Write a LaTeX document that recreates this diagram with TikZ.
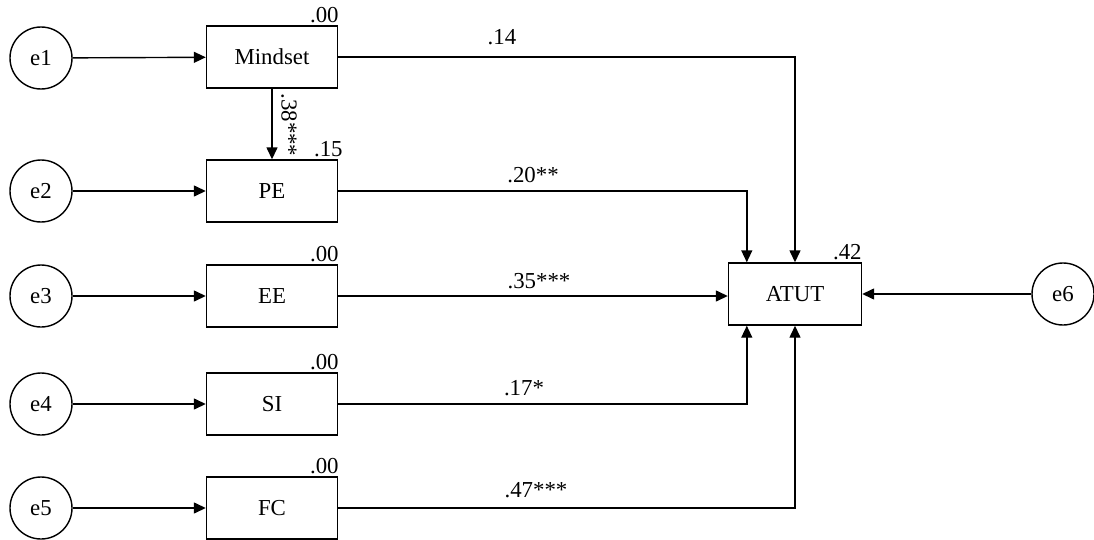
\documentclass[tikz,border=0pt]{standalone}
\usepackage{fontspec}
\setmainfont{Liberation Serif}
\usetikzlibrary{positioning,calc,arrows.meta}

\tikzset{
  errnode/.style={draw, circle, minimum size=12.4mm, inner sep=0pt, line width=0.8pt},
  varbox/.style={draw, rectangle, minimum width=26.2mm, minimum height=12.4mm,
                 inner sep=0pt, line width=0.8pt},
  pathline/.style={-{Triangle[length=2.4mm,width=2.2mm]}, line width=0.8pt},
  coeflab/.style={inner sep=1pt},
  r2lab/.style={inner sep=1pt, anchor=south east, xshift=0.5mm}
}

\begin{document}
\begin{tikzpicture}[x=0.2mm, y=-0.2mm, font=\fontsize{13}{15}\selectfont]

\useasboundingbox (0,0) rectangle (1094,539);

\def\errX{41}
\def\boxX{272}

% --- error terms ---
\node[errnode] (e1) at (\errX,58)  {e1};
\node[errnode] (e2) at (\errX,191) {e2};
\node[errnode] (e3) at (\errX,296) {e3};
\node[errnode] (e4) at (\errX,404) {e4};
\node[errnode] (e5) at (\errX,508) {e5};
\node[errnode] (e6) at (1063,294)  {e6};

% --- observed variables ---
\node[varbox] (mindset) at (\boxX,57)  {Mindset};
\node[varbox] (pe)      at (\boxX,191) {PE};
\node[varbox] (ee)      at (\boxX,296) {EE};
\node[varbox] (si)      at (\boxX,404) {SI};
\node[varbox] (fc)      at (\boxX,508) {FC};
\node[varbox, minimum width=26.6mm] (atut) at (795,294) {ATUT};

% --- squared multiple correlations ---
\node[r2lab] (r2mindset) at (mindset.north east) {.00};
\node[r2lab, xshift=0.8mm] (r2pe) at (pe.north east) {.15};
\node[r2lab] (r2ee) at (ee.north east) {.00};
\node[r2lab] (r2si) at (si.north east) {.00};
\node[r2lab] (r2fc) at (fc.north east) {.00};
\node[r2lab, xshift=-0.2mm] (r2atut) at (atut.north east) {.42};

% --- error paths ---
\foreach \e/\v in {e1/mindset, e2/pe, e3/ee, e4/si, e5/fc}
  \draw[pathline] (\e) -- (\v);
\draw[pathline] (e6) -- (atut);

% --- structural paths ---
\draw[pathline] (mindset) -- (pe);
\draw[pathline] (mindset.east) -| (atut.north);
\draw[pathline] (pe.east) -| ([xshift=3.8mm]atut.north west);
\draw[pathline] (ee.east) -- (ee.east -| atut.west);
\draw[pathline] (si.east) -| ([xshift=3.8mm]atut.south west);
\draw[pathline] (fc.east) -| (atut.south);

% --- path coefficients ---
\node[coeflab, rotate=-90] (c38) at (289,125) {.38***};
\node[coeflab] (c14) at (502,37)  {.14};
\node[coeflab] (c20) at (533,175) {.20**};
\node[coeflab] (c35) at (539,281) {.35***};
\node[coeflab] (c17) at (524,388) {.17*};
\node[coeflab] (c47) at (536,490) {.47***};

\end{tikzpicture}
\end{document}
